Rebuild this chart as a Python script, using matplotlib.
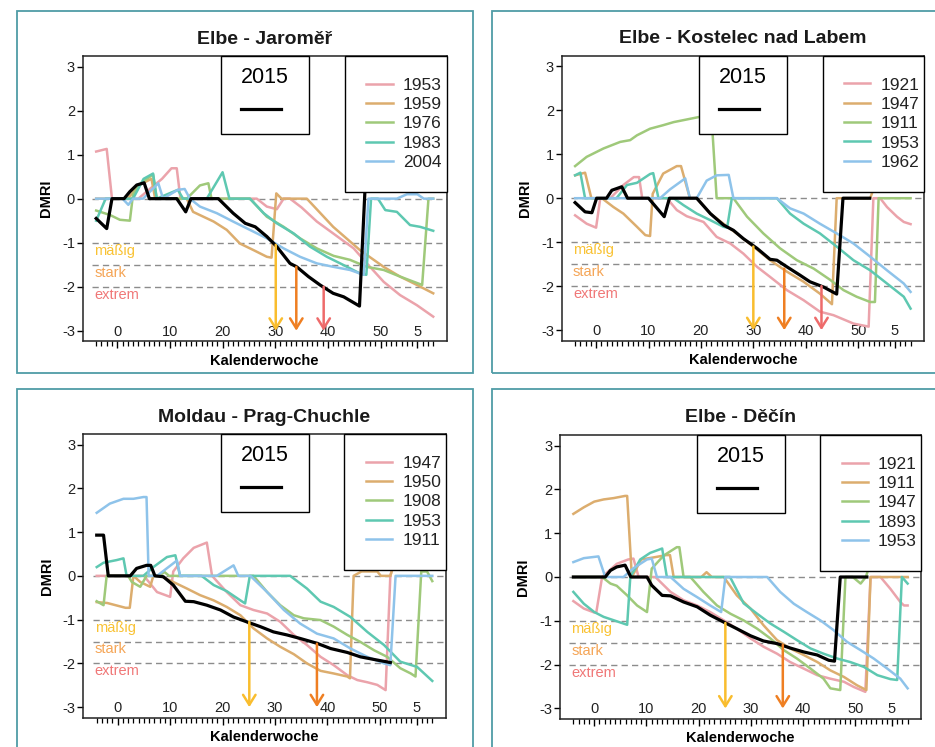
import matplotlib.pyplot as plt
from matplotlib.patches import Rectangle

plt.rcParams['font.family'] = ['Liberation Sans', 'DejaVu Sans']

# Kalenderwoche (0 = Jahresbeginn, 52+ = Folgejahr) und DMRI-Werte
# --- Elbe - Jaromer ---
JAR_2015_W = [-4, -2, -1, 1.3, 2.4, 3.7, 5.1, 6.1, 11.3, 13, 14, 19.2, 22, 24.3, 26.2, 28.4, 30.3, 32.8, 34.1, 36.3, 38.5, 41, 43, 46, 47.2]
JAR_2015 = [-0.45, -0.68, 0, 0, 0.16, 0.31, 0.36, 0, 0, -0.3, 0, 0, -0.33, -0.56, -0.64, -0.86, -1.09, -1.47, -1.55, -1.77, -1.96, -2.15, -2.23, -2.44, 0.6]
JAR_A_W = [-4, -2, -1, 4, 6, 8.5, 10.3, 11.3, 12, 26.5, 28.4, 30.3, 31.6, 32.8, 35, 37.9, 41, 44.9, 47.4, 50.6, 53.7, 56.9, 60]
JAR_A = [1.07, 1.13, 0, 0, 0.2, 0.45, 0.69, 0.69, 0, 0, -0.18, -0.24, 0, 0, -0.2, -0.52, -0.79, -1.13, -1.47, -1.89, -2.19, -2.42, -2.68]
JAR_B_W = [-4, 2, 4, 6.5, 7.2, 13.2, 14.4, 18.3, 20.8, 23.3, 25.9, 28.4, 29.3, 30.2, 31.2, 36, 41, 46.1, 50.6, 53.7, 56.9, 60]
JAR_B = [0, 0, 0.3, 0.45, 0, 0, -0.3, -0.52, -0.71, -1.02, -1.17, -1.32, -1.34, 0.12, 0, 0, -0.64, -1.17, -1.55, -1.77, -1.96, -2.15]
JAR_C_W = [-4, -1.4, 0.5, 2.4, 3, 4.5, 6.8, 7.5, 13.2, 15.7, 17.3, 17.9, 25.2, 28.4, 31.6, 34.7, 37.9, 41.1, 44.2, 47.4, 50.6, 53.7, 57.9, 59.1, 60]
JAR_C = [-0.27, -0.37, -0.48, -0.5, 0.1, 0.35, 0.55, 0, 0, 0.3, 0.35, 0, 0, -0.41, -0.64, -0.9, -1.13, -1.3, -1.39, -1.55, -1.62, -1.77, -1.96, 0, 0]
JAR_D_W = [-4, -2.2, 3, 5, 6.8, 7.5, 9.5, 11.5, 12.5, 17, 20, 21.3, 25.2, 27.8, 30.3, 33.5, 36.6, 39.8, 43, 46.1, 47.3, 48.2, 49.5, 50.9, 53.1, 55.6, 57.5, 60]
JAR_D = [-0.5, 0, 0, 0.45, 0.57, 0, 0.1, 0.2, 0, 0, 0.6, 0, 0, -0.33, -0.56, -0.79, -1.09, -1.32, -1.51, -1.7, -1.73, 0, 0, -0.26, -0.3, -0.6, -0.64, -0.73]
JAR_E_W = [-4, 1, 2.1, 3, 4.9, 7.8, 8.7, 11.5, 12.8, 13.8, 15.7, 18.9, 22, 25.2, 28.4, 31.6, 34.7, 37.9, 41.1, 44.2, 46.8, 47.7, 53.1, 55, 57, 58.2, 60]
JAR_E = [0, 0, -0.14, 0, 0, 0.35, 0, 0.2, 0.22, 0, -0.18, -0.33, -0.52, -0.71, -0.9, -1.13, -1.32, -1.47, -1.55, -1.62, -1.73, 0, 0, 0.1, 0.1, 0, 0]
JAR_YEARS = ['1953', '1959', '1976', '1983', '2004']
JAR_ARROW_W = [30.1, 34.0, 39.2]
JAR_ARROW_V = [-1.05, -1.55, -2.0]

# --- Elbe - Kostelec nad Labem ---
KOS_2015_W = [-4, -2.1, -0.8, 0.1, 2, 3, 4.9, 6, 10, 13, 14, 19.2, 21.8, 24.3, 26.2, 28.1, 30.7, 33.2, 34.5, 36.4, 38.9, 40.8, 43.4, 45.9, 47.1, 52.2]
KOS_2015 = [-0.1, -0.31, -0.33, 0, 0, 0.18, 0.26, 0, 0, -0.42, 0, 0, -0.35, -0.61, -0.73, -0.92, -1.14, -1.39, -1.41, -1.56, -1.75, -1.9, -2.02, -2.18, 0, 0]
KOS_A_W = [-4, -1.8, 0, 0.8, 2.7, 5.2, 7.2, 8.2, 8.8, 13.5, 15.4, 17.3, 20.5, 23, 25.6, 28.1, 30.7, 33.2, 36.4, 39.6, 42.7, 45.3, 49.1, 52, 52.9, 54.2, 55.5, 57.4, 58.7, 60]
KOS_A = [-0.39, -0.58, -0.67, 0, 0, 0.3, 0.48, 0.48, 0, 0, -0.27, -0.41, -0.54, -0.88, -1.03, -1.26, -1.56, -1.79, -2.09, -2.32, -2.58, -2.66, -2.85, -2.92, 0, 0, -0.2, -0.42, -0.54, -0.59]
KOS_B_W = [-4, -2.1, -0.9, 1.1, 3.3, 5.2, 7.8, 9.4, 10.3, 10.8, 12.8, 15.4, 16.2, 17.9, 19.2, 21.8, 24.3, 26.8, 30, 33.2, 36.4, 39.6, 42.7, 45, 45.9, 52.3, 53.2]
KOS_B = [0.52, 0.58, 0, 0, -0.2, -0.35, -0.65, -0.84, -0.86, 0.1, 0.56, 0.73, 0.73, 0, 0, -0.35, -0.58, -0.8, -1.1, -1.41, -1.67, -1.9, -2.17, -2.41, 0, 0, 0.3]
KOS_C_W = [-4, -1.8, 1.4, 4.6, 6.5, 7.8, 10.3, 12.8, 14.8, 17.3, 19.8, 22, 23, 26.2, 28.8, 31.9, 35.1, 38.3, 41.5, 44.7, 47.2, 49.7, 52.3, 53.2, 53.9, 60]
KOS_C = [0.73, 0.94, 1.13, 1.28, 1.32, 1.43, 1.58, 1.66, 1.73, 1.79, 1.85, 1.9, 0, 0, -0.42, -0.8, -1.14, -1.41, -1.6, -1.86, -2.09, -2.24, -2.36, -2.36, 0, 0]
KOS_D_W = [-4, -3, -2.1, 3.9, 5.9, 7.8, 10.3, 10.9, 11.9, 14.8, 16.7, 19.2, 21.8, 24.3, 25, 25.9, 34.5, 37, 39.6, 42.7, 45.9, 49.1, 52.3, 55.5, 58.7, 60]
KOS_D = [0.52, 0.58, 0, 0, 0.3, 0.35, 0.55, 0.57, 0, 0, -0.16, -0.35, -0.5, -0.65, -0.67, 0, 0, -0.35, -0.58, -0.8, -1.1, -1.41, -1.64, -1.94, -2.24, -2.51]
KOS_E_W = [-4, 12.2, 14.1, 17, 17.9, 19.2, 21.1, 23, 25.3, 26.2, 34.5, 37, 39.6, 42.7, 45.9, 49.1, 52.3, 55.5, 58.7, 60]
KOS_E = [0, 0, 0.2, 0.45, 0, 0, 0.4, 0.52, 0.53, 0, 0, -0.23, -0.35, -0.58, -0.8, -1.03, -1.33, -1.64, -1.94, -2.13]
KOS_YEARS = ['1921', '1947', '1911', '1953', '1962']
KOS_ARROW_W = [30.0, 35.9, 43.0]
KOS_ARROW_V = [-1.1, -1.6, -2.0]

# --- Moldau - Prag-Chuchle ---
PRG_2015_W = [-4, -2.7, -1.8, 2.4, 3.6, 5.5, 6.3, 7.1, 8.7, 10.6, 12.9, 14.5, 17, 19.6, 22.1, 24.6, 27.2, 29.7, 32.3, 34.8, 38, 40.6, 43.8, 46.3, 48.9, 52]
PRG_2015 = [0.93, 0.93, 0, 0, 0.17, 0.24, 0.24, 0, -0.02, -0.21, -0.58, -0.59, -0.67, -0.78, -0.94, -1.05, -1.16, -1.28, -1.35, -1.43, -1.54, -1.66, -1.75, -1.85, -1.91, -1.98]
PRG_A_W = [-4, 5, 7.5, 10, 10.6, 12.5, 14.5, 17, 18, 20.8, 23.4, 25.9, 28.5, 31, 33.6, 36.1, 38.7, 41.2, 43.8, 45.7, 47.6, 49.5, 51.1, 52, 52.6]
PRG_A = [0, 0, -0.37, -0.48, 0.1, 0.4, 0.64, 0.76, 0, -0.37, -0.67, -0.78, -0.86, -1.05, -1.35, -1.58, -1.85, -2.04, -2.27, -2.38, -2.43, -2.49, -2.61, 0, 0.3]
PRG_B_W = [-4, -2, 1.5, 2.3, 3, 4.3, 6.2, 6.8, 8.1, 10.6, 13.2, 15.7, 18.3, 20.8, 23.4, 25.9, 28.5, 31, 33.6, 36.1, 38.7, 41.2, 43.8, 44.3, 45, 46.5, 49.5, 50.2, 52, 52.8]
PRG_B = [-0.6, -0.62, -0.73, -0.73, 0, -0.14, -0.25, 0, 0, -0.14, -0.29, -0.44, -0.56, -0.71, -0.9, -1.2, -1.43, -1.62, -1.79, -2.0, -2.17, -2.23, -2.3, -2.34, 0, 0.1, 0.1, 0, 0, 0.3]
PRG_C_W = [-4, -2.7, -2.1, 2, 2.7, 4.3, 5.5, 8, 8.9, 9.8, 25.9, 28.5, 31, 33.6, 35.5, 38.7, 41.2, 43.8, 46.3, 48.9, 51.4, 53.9, 55.9, 56.8, 57.9, 59, 60]
PRG_C = [-0.58, -0.67, 0, 0, -0.14, -0.25, 0, 0, 0.09, 0, 0, -0.37, -0.67, -0.9, -0.97, -1.01, -1.16, -1.35, -1.51, -1.7, -1.85, -2.11, -2.23, -2.3, 0.1, 0.1, -0.12]
PRG_D_W = [-4, -2.7, -0.2, 1.1, 1.7, 4.9, 6.8, 9.4, 11, 11.9, 16, 18.3, 20.8, 23.4, 24.3, 25.2, 32.9, 36.1, 38.7, 41.2, 44.4, 47.6, 50.8, 53.9, 57.1, 60]
PRG_D = [0.2, 0.3, 0.36, 0.4, 0, 0, 0.2, 0.43, 0.47, 0, 0, -0.21, -0.35, -0.56, -0.63, 0, 0, -0.29, -0.59, -0.71, -0.94, -1.28, -1.58, -1.96, -2.08, -2.4]
PRG_E_W = [-4, -1.5, 1.1, 3, 4.9, 5.5, 5.9, 7.5, 11.3, 11.9, 18.9, 22.1, 23, 25.3, 28.5, 31.7, 34.8, 38, 41.2, 44.4, 47.6, 50.8, 52, 53, 60]
PRG_E = [1.44, 1.65, 1.76, 1.76, 1.8, 1.8, 0, 0, 0.35, 0, 0, 0.24, 0, 0, -0.37, -0.78, -1.09, -1.32, -1.43, -1.66, -1.85, -2.0, -2.04, 0, 0]
PRG_YEARS = ['1947', '1950', '1908', '1953', '1911']
PRG_ARROW_W = [25.1, 38.0]
PRG_ARROW_V = [-1.05, -1.55]

# --- Elbe - Decin ---
DEC_2015_W = [-4, 2.1, 3.1, 4.3, 5.9, 7, 10.1, 11, 13, 14.6, 17.1, 19.7, 22.2, 24.8, 27.3, 29.9, 32.4, 35, 37.5, 40.1, 42.7, 44.9, 46, 47.1, 52.2]
DEC_2015 = [0, 0, 0.15, 0.23, 0.27, 0, 0, -0.19, -0.42, -0.43, -0.57, -0.68, -0.87, -1.03, -1.18, -1.34, -1.46, -1.52, -1.62, -1.71, -1.78, -1.9, -1.92, 0, 0]
DEC_A_W = [-4, -2, 0, 0.4, 1.5, 4.3, 6.5, 7.5, 8.5, 11.7, 14.6, 17.1, 19.7, 22.2, 24.8, 27.3, 29.9, 32.4, 35, 37.5, 40.1, 42.7, 45.2, 47.8, 49.7, 51.9, 52.9, 54.8, 56.7, 58.6, 59.3, 60]
DEC_A = [-0.55, -0.72, -0.81, -0.8, 0, 0.3, 0.4, 0.42, 0, 0, -0.34, -0.53, -0.65, -0.8, -0.99, -1.18, -1.4, -1.59, -1.75, -1.94, -2.09, -2.24, -2.32, -2.39, -2.51, -2.62, 0, 0, -0.27, -0.57, -0.65, -0.65]
DEC_B_W = [-4, -2, 0, 1.8, 3.7, 5.9, 6.3, 7.2, 9, 11.5, 13.8, 14.5, 15.2, 20.5, 21.5, 22.5, 24.8, 27.3, 29.9, 32.4, 35, 37.5, 40.1, 42.7, 45.2, 47.8, 50.3, 52.1, 52.9, 60]
DEC_B = [1.44, 1.59, 1.72, 1.77, 1.8, 1.85, 1.85, 0, 0.4, 0.45, 0.5, 0.5, 0, 0, 0.11, 0, 0, -0.42, -0.72, -1.1, -1.44, -1.63, -1.78, -1.94, -2.13, -2.28, -2.47, -2.58, 0, 0]
DEC_C_W = [-4, 1.5, 3.1, 4.3, 6.3, 8.2, 10.1, 11, 13.3, 15.8, 16.3, 17.1, 18.4, 20.9, 23.5, 26.1, 28.6, 31.2, 33.7, 36.3, 38.8, 41.4, 43.9, 45.2, 47.1, 48.1, 49.5, 51, 52, 52.8]
DEC_C = [0, 0, -0.15, -0.2, -0.42, -0.65, -0.8, 0.19, 0.49, 0.68, 0.68, 0, 0, -0.34, -0.65, -0.84, -0.99, -1.18, -1.4, -1.67, -1.86, -2.09, -2.32, -2.54, -2.58, 0, 0, -0.15, 0, 0.3]
DEC_D_W = [-4, -2, 0, 1.8, 4.3, 6.3, 6.9, 8.8, 10.7, 13, 13.9, 26, 28.6, 31.2, 33.7, 36.3, 38.8, 41.4, 43.9, 46.5, 49, 51.6, 54.2, 56.7, 58, 58.9, 60]
DEC_D = [-0.34, -0.61, -0.8, -0.91, -1.01, -1.09, 0, 0.4, 0.55, 0.65, 0, 0, -0.6, -0.84, -1.06, -1.25, -1.44, -1.63, -1.75, -1.86, -1.94, -2.05, -2.24, -2.33, -2.35, 0, -0.15]
DEC_E_W = [-4, -2, 0.8, 2.1, 5.6, 7.5, 10.1, 11, 12, 14.6, 17.1, 19.7, 22.2, 24.3, 25.1, 33.1, 35.6, 38.2, 40.7, 43.3, 45.8, 48.4, 51, 53.5, 56.1, 58.6, 60]
DEC_E = [0.34, 0.43, 0.47, 0, 0, 0.2, 0.4, 0.42, 0, 0, -0.27, -0.46, -0.65, -0.8, 0, 0, -0.34, -0.61, -0.8, -0.99, -1.21, -1.48, -1.67, -1.86, -2.09, -2.32, -2.54]
DEC_YEARS = ['1921', '1911', '1947', '1893', '1953']
DEC_ARROW_W = [25.1, 36.1]
DEC_ARROW_V = [-1.05, -1.55]

SERIES_COLORS = ['#eba3ab', '#dcad6e', '#9fc97a', '#5ec8b1', '#8ec3ea']
ARROW_COLORS = ['#f9bd2e', '#ef7f22', '#ee6b6b']
THRESH = [-1, -1.5, -2]
THRESH_LABELS = ['mäßig', 'stark', 'extrem']
THRESH_COLORS = ['#f9c233', '#f5a556', '#f07777']
XTICKS = [0, 10, 20, 30, 40, 50, 57]
XTICK_LABELS = ['0', '10', '20', '30', '40', '50', '5']

panels = [
    ('Elbe - Jaroměř', (82.7, 446.7, 56.0, 341.3), JAR_2015_W, JAR_2015,
     [(JAR_A_W, JAR_A), (JAR_B_W, JAR_B), (JAR_C_W, JAR_C), (JAR_D_W, JAR_D), (JAR_E_W, JAR_E)],
     JAR_YEARS, JAR_ARROW_W, JAR_ARROW_V),
    ('Elbe - Kostelec nad Labem', (561.7, 924.0, 55.7, 340.7), KOS_2015_W, KOS_2015,
     [(KOS_A_W, KOS_A), (KOS_B_W, KOS_B), (KOS_C_W, KOS_C), (KOS_D_W, KOS_D), (KOS_E_W, KOS_E)],
     KOS_YEARS, KOS_ARROW_W, KOS_ARROW_V),
    ('Moldau - Prag-Chuchle', (83.3, 445.7, 434.0, 717.7), PRG_2015_W, PRG_2015,
     [(PRG_A_W, PRG_A), (PRG_B_W, PRG_B), (PRG_C_W, PRG_C), (PRG_D_W, PRG_D), (PRG_E_W, PRG_E)],
     PRG_YEARS, PRG_ARROW_W, PRG_ARROW_V),
    ('Elbe - Děčín', (560.0, 921.0, 435.0, 719.0), DEC_2015_W, DEC_2015,
     [(DEC_A_W, DEC_A), (DEC_B_W, DEC_B), (DEC_C_W, DEC_C), (DEC_D_W, DEC_D), (DEC_E_W, DEC_E)],
     DEC_YEARS, DEC_ARROW_W, DEC_ARROW_V),
]

W, H = 935, 747
fig = plt.figure(figsize=(W / 100, H / 100), dpi=100)

# teal frames around each panel (pixel coords)
frame_color = '#4f9ca6'
for (x0, y0, x1, y1) in [(16.7, 10.7, 473.3, 372.7), (491.7, 10.7, 945, 372.7),
                         (16.7, 389, 473.3, 760), (491.7, 389, 945, 760)]:
    fig.patches.append(Rectangle((x0 / W, 1 - y1 / H), (x1 - x0) / W, (y1 - y0) / H,
                                 transform=fig.transFigure, fill=False,
                                 edgecolor=frame_color, linewidth=1.3))

for title, (l, r, t, b), w15, v15, series, years, arr_w, arr_v in panels:
    ax = fig.add_axes([l / W, 1 - b / H, (r - l) / W, (b - t) / H])
    ax.set_xlim(-6.56, 62.56)
    ax.set_ylim(-3.24, 3.24)

    ax.hlines([0] + THRESH, -4.8, 62.56, colors='#8c8c8c', linestyles=(0, (4.5, 3)),
              linewidth=1.0, zorder=1)
    for lev, lab, c in zip(THRESH, THRESH_LABELS, THRESH_COLORS):
        ax.text(-4.4, lev - 0.18, lab, color=c, fontsize=10.5, ha='left', va='center')

    handles = []
    for (sw, sv), c in zip(series, SERIES_COLORS):
        ln, = ax.plot(sw, sv, color=c, linewidth=1.8, zorder=2)
        handles.append(ln)
    blk, = ax.plot(w15, v15, color='black', linewidth=2.3, zorder=3)

    for aw, av, c in zip(arr_w, arr_v, ARROW_COLORS):
        ax.annotate('', xy=(aw, -3.0), xytext=(aw, av),
                    arrowprops=dict(arrowstyle='->,head_length=0.45,head_width=0.28',
                                    color=c, lw=1.8, shrinkA=0, shrinkB=0,
                                    mutation_scale=16), zorder=4)

    leg_years = ax.legend(handles=handles, labels=years, loc='upper left',
                          bbox_to_anchor=(0.72, 0, 0.28, 1), mode='expand',
                          borderaxespad=0, fontsize=12.5, handlelength=1.5,
                          handletextpad=0.6, labelspacing=0.24, borderpad=1.25,
                          fancybox=False, framealpha=1, edgecolor='black')
    leg_years.get_frame().set_linewidth(1.0)
    for txt in leg_years.get_texts():
        txt.set_color('#222222')
    ax.add_artist(leg_years)

    leg_now = ax.legend(handles=[blk], labels=[''], title='2015', title_fontsize=15.5,
                        loc='upper left', bbox_to_anchor=(0.380, 0, 0.242, 1), mode='expand',
                        borderaxespad=0, fontsize=10, borderpad=0.81, labelspacing=0.96,
                        handlelength=2.88, handleheight=1.97, handletextpad=0.6,
                        markerfirst=False, fancybox=False, framealpha=1, edgecolor='black')
    leg_now.get_frame().set_linewidth(1.0)

    ax.set_xticks(XTICKS)
    ax.set_xticklabels(XTICK_LABELS)
    ax.set_xticks(range(-4, 61), minor=True)
    ax.tick_params(axis='x', which='major', direction='out', length=5, width=1.0,
                   pad=-17, labelsize=10.5, labelcolor='#222222')
    ax.tick_params(axis='x', which='minor', direction='out', length=3.5, width=0.9)
    ax.set_yticks([-3, -2, -1, 0, 1, 2, 3])
    ax.set_yticklabels(['-3', '-2', '-1', '0', '1', '2', '3'])
    ax.tick_params(axis='y', direction='out', length=4, width=1.0, pad=1.5,
                   labelsize=10.5, labelcolor='#222222')
    for sp in ax.spines.values():
        sp.set_linewidth(1.1)
        sp.set_color('#222222')

    ax.set_title(title, fontsize=14, fontweight='bold', pad=9, color='#1a1a1a')
    ax.set_ylabel('DMRI', fontsize=10.5, fontweight='bold', labelpad=6.5)
    ax.set_xlabel('Kalenderwoche', fontsize=10.5, fontweight='bold', labelpad=2)

fig.savefig('out.png', dpi=100)
